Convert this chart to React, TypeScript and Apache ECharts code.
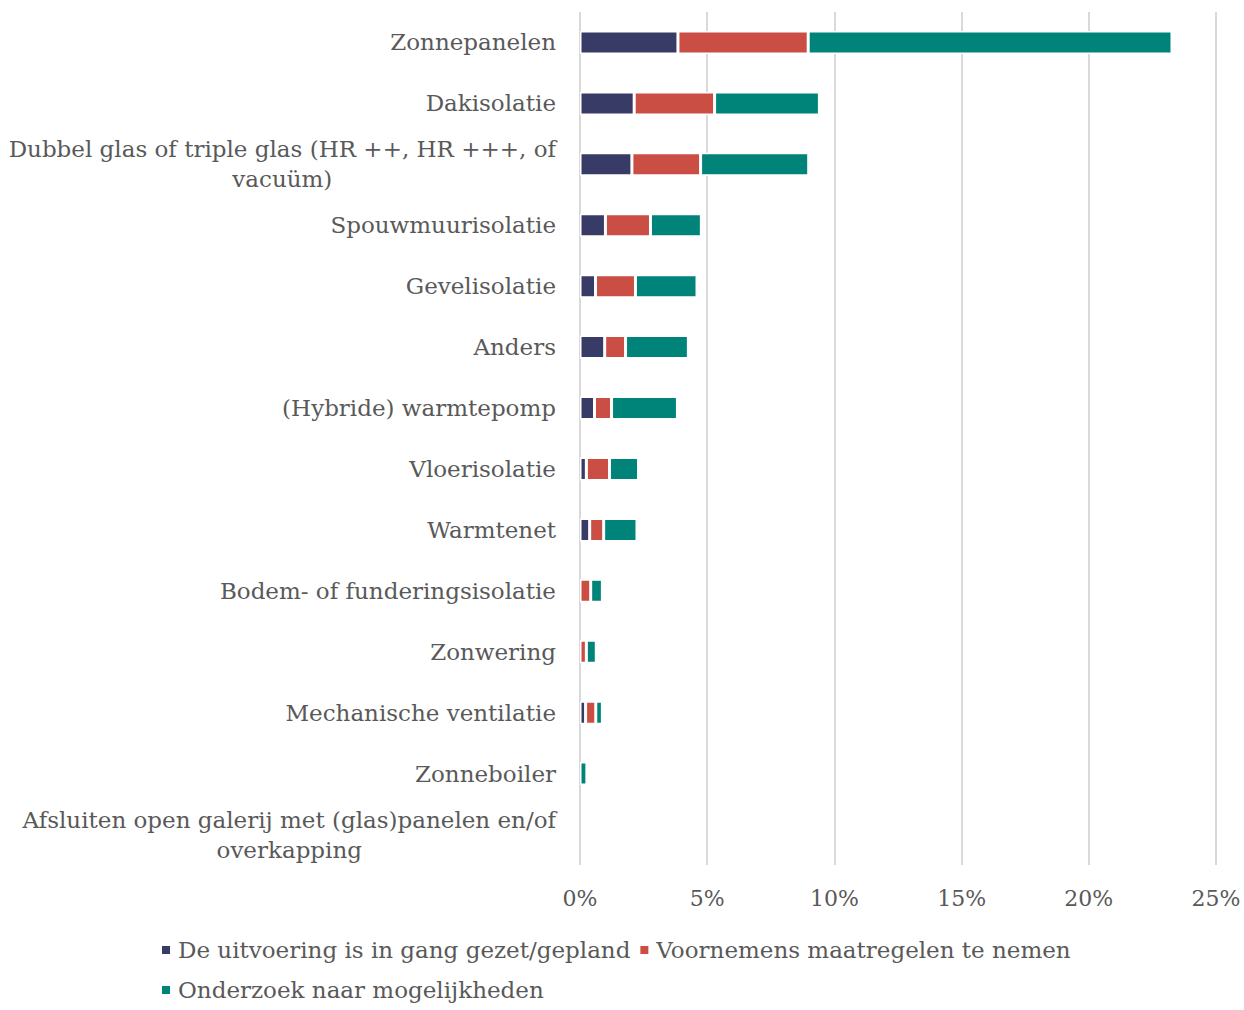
import React, { useEffect, useRef } from "react";
import * as echarts from "echarts";

const categories = [
  "Zonnepanelen",
  "Dakisolatie",
  "Dubbel glas of triple glas (HR ++, HR +++, of\nvacuüm)",
  "Spouwmuurisolatie",
  "Gevelisolatie",
  "Anders",
  "(Hybride) warmtepomp",
  "Vloerisolatie",
  "Warmtenet",
  "Bodem- of funderingsisolatie",
  "Zonwering",
  "Mechanische ventilatie",
  "Zonneboiler",
  "Afsluiten open galerij met (glas)panelen en/of\noverkapping",
];

const seriesNames = [
  "De uitvoering is in gang gezet/gepland",
  "Voornemens maatregelen te nemen",
  "Onderzoek naar mogelijkheden",
];

const uitvoering = [3.85, 2.13, 2.04, 1.0, 0.61, 0.97, 0.57, 0.25, 0.38, 0, 0, 0.22, 0, 0];
const voornemens = [5.12, 3.16, 2.7, 1.77, 1.57, 0.82, 0.67, 0.91, 0.55, 0.42, 0.25, 0.4, 0, 0];
const onderzoek = [14.3, 4.12, 4.25, 2.0, 2.42, 2.47, 2.59, 1.14, 1.31, 0.46, 0.39, 0.26, 0.27, 0];

const xTicks = { min: 0, max: 25, interval: 5 };

const colors = ["#383B66", "#CB4E44", "#00847A"];
const FONT = '"DejaVu Serif", serif';
const TEXT = "#595959";

export default function App() {
  const ref = useRef<HTMLDivElement>(null);

  useEffect(() => {
    document.body.style.margin = "0";
    if (!ref.current) return;
    const chart = echarts.init(ref.current, null, { renderer: "svg" });
    const values = [uitvoering, voornemens, onderzoek];
    chart.setOption({
      animation: false,
      textStyle: { fontFamily: FONT },
      grid: { left: 580, right: 28, top: 12, bottom: 145, containLabel: false },
      legend: {
        left: 160,
        top: 934,
        width: 1000,
        padding: 0,
        icon: "rect",
        itemWidth: 10,
        itemHeight: 10,
        itemGap: 8,
        textStyle: { fontFamily: FONT, fontSize: 23, color: TEXT, lineHeight: 32, padding: [0, 0, 0, 2] },
        data: seriesNames,
      },
      xAxis: {
        type: "value",
        min: xTicks.min,
        max: xTicks.max,
        interval: xTicks.interval,
        axisLine: { show: false },
        axisTick: { show: false },
        splitLine: { show: true, lineStyle: { color: "#D9D9D9", width: 2 } },
        axisLabel: {
          formatter: "{value}%",
          color: TEXT,
          fontFamily: FONT,
          fontSize: 22,
          margin: 22,
        },
      },
      yAxis: {
        type: "category",
        inverse: true,
        data: categories,
        axisLine: { show: false },
        axisTick: { show: false },
        axisLabel: {
          color: TEXT,
          fontFamily: FONT,
          fontSize: 23,
          margin: 24,
          lineHeight: 30,
          formatter: (v: string) =>
            v.includes("\n") ? v.split("\n").map((l) => `{c|${l}}`).join("\n") : v,
          rich: {
            c: { align: "center", color: TEXT, fontFamily: FONT, fontSize: 23, lineHeight: 30 },
          },
        },
      },
      series: values.map((arr, i) => ({
        name: seriesNames[i],
        type: "bar",
        stack: "total",
        barWidth: 23,
        itemStyle: { color: colors[i], borderColor: "#ffffff", borderWidth: 1.5 },
        data: arr.map((v) => (v === 0 ? null : v)),
      })),
    });
    return () => chart.dispose();
  }, []);

  return <div ref={ref} style={{ width: 1244, height: 1010 }} />;
}
